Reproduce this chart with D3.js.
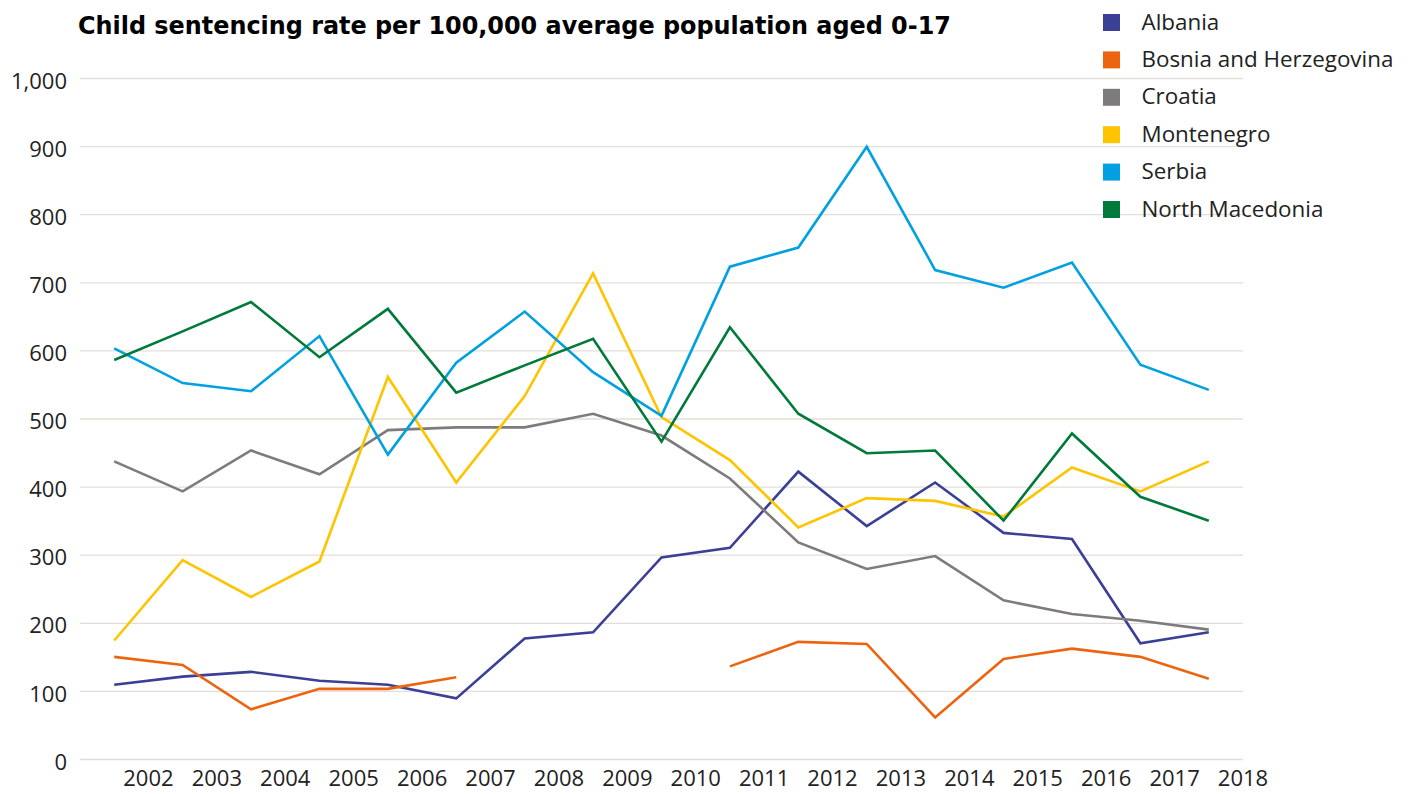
<!DOCTYPE html>
<html>
<head>
<meta charset="utf-8">
<script src="https://cdn.jsdelivr.net/npm/d3@7"></script>
<style>
  body { margin: 0; background: #fff; }
  svg text { font-family: "Open Sans", "Liberation Sans", sans-serif; }
</style>
</head>
<body>
<svg id="chart"></svg>
<script>
const years = [2002, 2003, 2004, 2005, 2006, 2007, 2008, 2009, 2010, 2011, 2012, 2013, 2014, 2015, 2016, 2017, 2018];
const yTicks = [0, 100, 200, 300, 400, 500, 600, 700, 800, 900, 1000];

const albania        = [109, 121, 128, 115, 109, 89, 177, 186, 296, 310, 422, 342, 406, 332, 323, 170, 186];
const bosnia         = [150, 138, 73, 103, 103, 120, null, null, null, 136, 172, 169, 61, 147, 162, 150, 118];
const croatia        = [437, 393, 453, 418, 483, 487, 487, 507, 475, 412, 318, 279, 298, 233, 213, 203, 190];
const montenegro     = [174, 292, 238, 290, 561, 406, 533, 713, 502, 439, 340, 383, 379, 356, 428, 393, 437];
const serbia         = [603, 552, 540, 621, 447, 582, 657, 568, 504, 723, 751, 899, 718, 692, 729, 579, 542];
const northMacedonia = [586, 628, 671, 590, 661, 538, 578, 617, 466, 634, 507, 449, 453, 350, 478, 385, 350];

const seriesNames = ['Albania', 'Bosnia and Herzegovina', 'Croatia', 'Montenegro', 'Serbia', 'North Macedonia'];
const seriesValues = [albania, bosnia, croatia, montenegro, serbia, northMacedonia];
const colors = ['#3b3f95', '#ec6410', '#7e7b7c', '#fec400', '#00a0e1', '#007a3a'];

const width = 1412, height = 794;
const margin = {top: 78, right: 169, bottom: 35, left: 80};
const innerW = width - margin.left - margin.right;
const innerH = height - margin.top - margin.bottom;

const svg = d3.select('#chart')
    .attr('width', width)
    .attr('height', height);

const chart = svg.append('g')
    .attr('transform', `translate(${margin.left}, ${margin.top})`);

const xscale = d3.scaleBand()
    .domain(years)
    .range([0, innerW])
    .padding(0);

const yscale = d3.scaleLinear()
    .domain([0, 1000])
    .range([innerH, 0]);

// grid + y labels
const yaxis = d3.axisLeft(yscale)
    .tickValues(yTicks)
    .tickFormat(d3.format(','))
    .tickSize(-innerW)
    .tickPadding(13);

const yg = chart.append('g').call(yaxis);
yg.select('.domain').remove();
yg.selectAll('.tick line').attr('stroke', '#e3ded8').attr('stroke-width', 1.3);
yg.selectAll('.tick text')
    .attr('fill', '#222')
    .style('font-size', '22px')
    .attr('dy', '0.46em');

// x labels sit on the right edge of each band
const xaxis = d3.axisBottom(xscale).tickSize(0).tickPadding(11);
const xg = chart.append('g')
    .attr('transform', `translate(${xscale.bandwidth() / 2}, ${innerH})`)
    .call(xaxis);
xg.select('.domain').remove();
xg.selectAll('.tick text')
    .attr('fill', '#222')
    .style('font-size', '22px');

// legend (over the grid)
const legend = svg.append('g').attr('transform', 'translate(1103, 14)');
seriesNames.forEach((name, i) => {
    const row = legend.append('g').attr('transform', `translate(0, ${i * 37.4})`);
    row.append('rect')
        .attr('width', 17).attr('height', 17)
        .attr('fill', colors[i]);
    row.append('text')
        .attr('x', 38.5).attr('y', 15.5)
        .attr('fill', '#222')
        .style('font-size', '22.4px')
        .text(name);
});

const line = d3.line()
    .defined(d => d != null)
    .x((d, i) => xscale(years[i]) + xscale.bandwidth() / 2)
    .y(d => yscale(d));

seriesValues.forEach((vals, i) => {
    chart.append('path')
        .datum(vals)
        .attr('fill', 'none')
        .attr('stroke', colors[i])
        .attr('stroke-width', 2.6)
        .attr('stroke-linejoin', 'miter')
        .attr('d', line);
});

svg.append('text')
    .attr('x', 78)
    .attr('y', 34)
    .style('font-family', '"DejaVu Sans", "Liberation Sans", sans-serif')
    .style('font-weight', 'bold')
    .style('font-size', '23.9px')
    .attr('fill', '#000')
    .text('Child sentencing rate per 100,000 average population aged 0-17');
</script>
</body>
</html>
